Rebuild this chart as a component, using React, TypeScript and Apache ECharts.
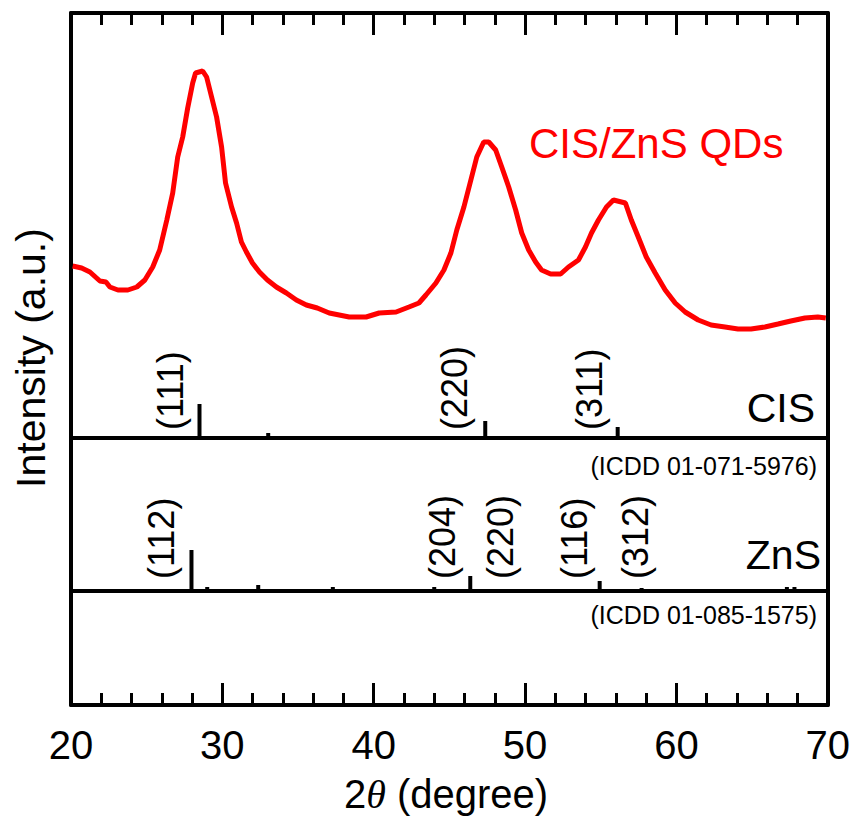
import React, { useEffect, useRef } from "react";
import * as echarts from "echarts";

// XRD pattern of CIS/ZnS QDs (2θ in degrees, intensity in arbitrary units)
const twoTheta = [
  20.11, 20.7, 21.25, 21.91, 22.31, 22.57, 23.1, 23.76, 24.35, 24.88, 25.4, 25.86, 26.33, 26.72,
  27.05, 27.38, 27.71, 28.04, 28.23, 28.7, 28.96, 29.29, 29.62, 29.95, 30.21, 30.61, 30.94, 31.26,
  31.59, 31.99, 32.45, 32.98, 33.57, 34.23, 34.89, 35.55, 36.27, 37.06, 37.72, 38.38, 39.5, 40.36,
  41.48, 42.33, 42.99, 43.45, 44.11, 44.64, 45.1, 45.49, 45.96, 46.42, 46.81, 47.27, 47.6, 48.06,
  48.46, 48.92, 49.38, 49.78, 50.24, 50.7, 51.09, 51.69, 52.35, 52.87, 53.53, 53.99, 54.39, 54.85,
  55.38, 55.84, 56.63, 57.02, 57.48, 58.01, 58.6, 59.26, 59.92, 60.58, 61.44, 62.29, 63.21, 64.07,
  64.93, 65.85, 66.71, 67.56, 68.49, 69.34, 69.87,
];
const intensity = [
  439, 437, 433, 424, 423, 418, 415, 415, 418, 425, 438, 455, 485, 512,
  548, 568, 597, 622, 632, 634, 628, 608, 588, 558, 522, 498, 482, 463,
  453, 442, 433, 425, 418, 412, 405, 400, 397, 392, 390, 388, 388, 392,
  393, 398, 402, 410, 422, 435, 452, 475, 498, 525, 548, 563, 563, 555,
  538, 518, 495, 472, 455, 443, 435, 431, 431, 438, 445, 458, 472, 485,
  498, 505, 502, 485, 468, 448, 432, 415, 402, 393, 385, 380, 378, 376,
  376, 378, 381, 384, 387, 388, 387,
];

// Reference patterns (stick positions and relative heights)
const cisBase = 267;
const cisPos = [28.49, 33.03, 47.37, 56.12];
const cisHeight = [34, 5, 17, 11];
const cisLabels = ["(111)", "(220)", "(311)"];
const cisLabelPos = [26.59, 45.36, 54.26];

const znsBase = 114;
const znsPos = [27.96, 29.0, 32.37, 37.3, 44.0, 46.38, 54.93, 57.7, 67.3, 67.8];
const znsHeight = [41, 4, 6, 4, 4, 15, 10, 3, 4, 4];
const znsLabels = ["(112)", "(204)", "(220)", "(116)", "(312)"];
const znsLabelPos = [26.0, 44.54, 48.36, 53.3, 57.29];

const xTicks = [20, 30, 40, 50, 60, 70];

const FONT = "'Liberation Sans', Arial, sans-serif";

export default function App() {
  const ref = useRef<HTMLDivElement>(null);

  useEffect(() => {
    if (!ref.current) return;
    const chart = echarts.init(ref.current, null, { renderer: "svg" });

    const stickData = [
      ...cisPos.map((p, i) => [p, cisBase, cisHeight[i]]),
      ...znsPos.map((p, i) => [p, znsBase, znsHeight[i]]),
    ];
    const labelTexts = [...cisLabels, ...znsLabels];
    const labelData = [
      ...cisLabelPos.map((p) => [p, cisBase + 8]),
      ...znsLabelPos.map((p) => [p, znsBase + 12]),
    ];

    const axisLineStyle = { color: "#000", width: 4 };

    chart.setOption({
      animation: false,
      grid: { left: 71, right: 23, top: 13, bottom: 113, containLabel: false },
      xAxis: [
        {
          type: "value",
          min: xTicks[0],
          max: xTicks[xTicks.length - 1],
          interval: 10,
          position: "bottom",
          axisLine: { show: true, onZero: false, lineStyle: axisLineStyle },
          axisTick: { show: true, inside: true, length: 22, lineStyle: { color: "#000", width: 3 } },
          minorTick: { show: true, splitNumber: 5, length: 12, lineStyle: { color: "#000", width: 3 } },
          axisLabel: { show: true, margin: 20, fontSize: 40, color: "#000", fontFamily: FONT },
          splitLine: { show: false },
        },
        {
          type: "value",
          min: xTicks[0],
          max: xTicks[xTicks.length - 1],
          interval: 10,
          position: "top",
          axisLine: { show: true, onZero: false, lineStyle: axisLineStyle },
          axisTick: { show: true, inside: true, length: 22, lineStyle: { color: "#000", width: 3 } },
          minorTick: { show: true, splitNumber: 5, length: 12, lineStyle: { color: "#000", width: 3 } },
          axisLabel: { show: false },
          splitLine: { show: false },
        },
      ],
      yAxis: [
        {
          type: "value",
          min: 0,
          max: 692,
          position: "left",
          axisLine: { show: true, onZero: false, lineStyle: axisLineStyle },
          axisTick: { show: false },
          axisLabel: { show: false },
          splitLine: { show: false },
        },
        {
          type: "value",
          min: 0,
          max: 692,
          position: "right",
          axisLine: { show: true, onZero: false, lineStyle: axisLineStyle },
          axisTick: { show: false },
          axisLabel: { show: false },
          splitLine: { show: false },
        },
      ],
      series: [
        {
          type: "line",
          data: twoTheta.map((t, i) => [t, intensity[i]]),
          showSymbol: false,
          lineStyle: { color: "#ff0000", width: 5 },
          z: 3,
        },
        {
          type: "line",
          data: [
            [xTicks[0], cisBase],
            [xTicks[xTicks.length - 1], cisBase],
          ],
          showSymbol: false,
          lineStyle: { color: "#000", width: 4 },
        },
        {
          type: "line",
          data: [
            [xTicks[0], znsBase],
            [xTicks[xTicks.length - 1], znsBase],
          ],
          showSymbol: false,
          lineStyle: { color: "#000", width: 4 },
        },
        {
          type: "custom",
          data: stickData,
          renderItem: (params: any, api: any) => {
            const x = api.value(0);
            const b = api.value(1);
            const h = api.value(2);
            const p0 = api.coord([x, b]);
            const p1 = api.coord([x, b + h]);
            return {
              type: "line",
              shape: { x1: p0[0], y1: p0[1], x2: p1[0], y2: p1[1] },
              style: { stroke: "#000", lineWidth: 4 },
            };
          },
        },
        {
          type: "custom",
          data: labelData,
          renderItem: (params: any, api: any) => {
            const p = api.coord([api.value(0), api.value(1)]);
            return {
              type: "text",
              x: p[0],
              y: p[1],
              rotation: Math.PI / 2,
              style: {
                text: labelTexts[params.dataIndex],
                fontSize: 36,
                fontFamily: FONT,
                fill: "#000",
                align: "left",
                verticalAlign: "middle",
              },
            };
          },
        },
      ],
      graphic: [
        {
          type: "text",
          x: 529,
          y: 143,
          style: {
            text: "CIS/ZnS QDs",
            fontSize: 42,
            fontFamily: FONT,
            fill: "#ff0000",
            align: "left",
            verticalAlign: "middle",
          },
        },
        {
          type: "text",
          x: 815,
          y: 408,
          style: { text: "CIS", fontSize: 41, fontFamily: FONT, fill: "#000", align: "right", verticalAlign: "middle" },
        },
        {
          type: "text",
          x: 817,
          y: 466,
          style: {
            text: "(ICDD 01-071-5976)",
            fontSize: 25,
            fontFamily: FONT,
            fill: "#000",
            align: "right",
            verticalAlign: "middle",
          },
        },
        {
          type: "text",
          x: 821,
          y: 555,
          style: { text: "ZnS", fontSize: 41, fontFamily: FONT, fill: "#000", align: "right", verticalAlign: "middle" },
        },
        {
          type: "text",
          x: 817,
          y: 615,
          style: {
            text: "(ICDD 01-085-1575)",
            fontSize: 25,
            fontFamily: FONT,
            fill: "#000",
            align: "right",
            verticalAlign: "middle",
          },
        },
        {
          type: "text",
          x: 31,
          y: 358,
          rotation: Math.PI / 2,
          style: {
            text: "Intensity (a.u.)",
            fontSize: 41,
            fontFamily: FONT,
            fill: "#000",
            align: "center",
            verticalAlign: "middle",
          },
        },
        {
          type: "text",
          x: 446,
          y: 794,
          style: {
            text: "{a|2}{b|θ}{a| (degree)}",
            align: "center",
            verticalAlign: "middle",
            rich: {
              a: { fontSize: 40, fontFamily: FONT, fill: "#000" },
              b: { fontSize: 40, fontFamily: "'Liberation Serif', serif", fontStyle: "italic", fill: "#000" },
            },
          },
        },
      ],
    });

    return () => chart.dispose();
  }, []);

  return (
    <div
      ref={ref}
      style={{ position: "fixed", left: 0, top: 0, width: 853, height: 818, background: "#fff" }}
    />
  );
}
